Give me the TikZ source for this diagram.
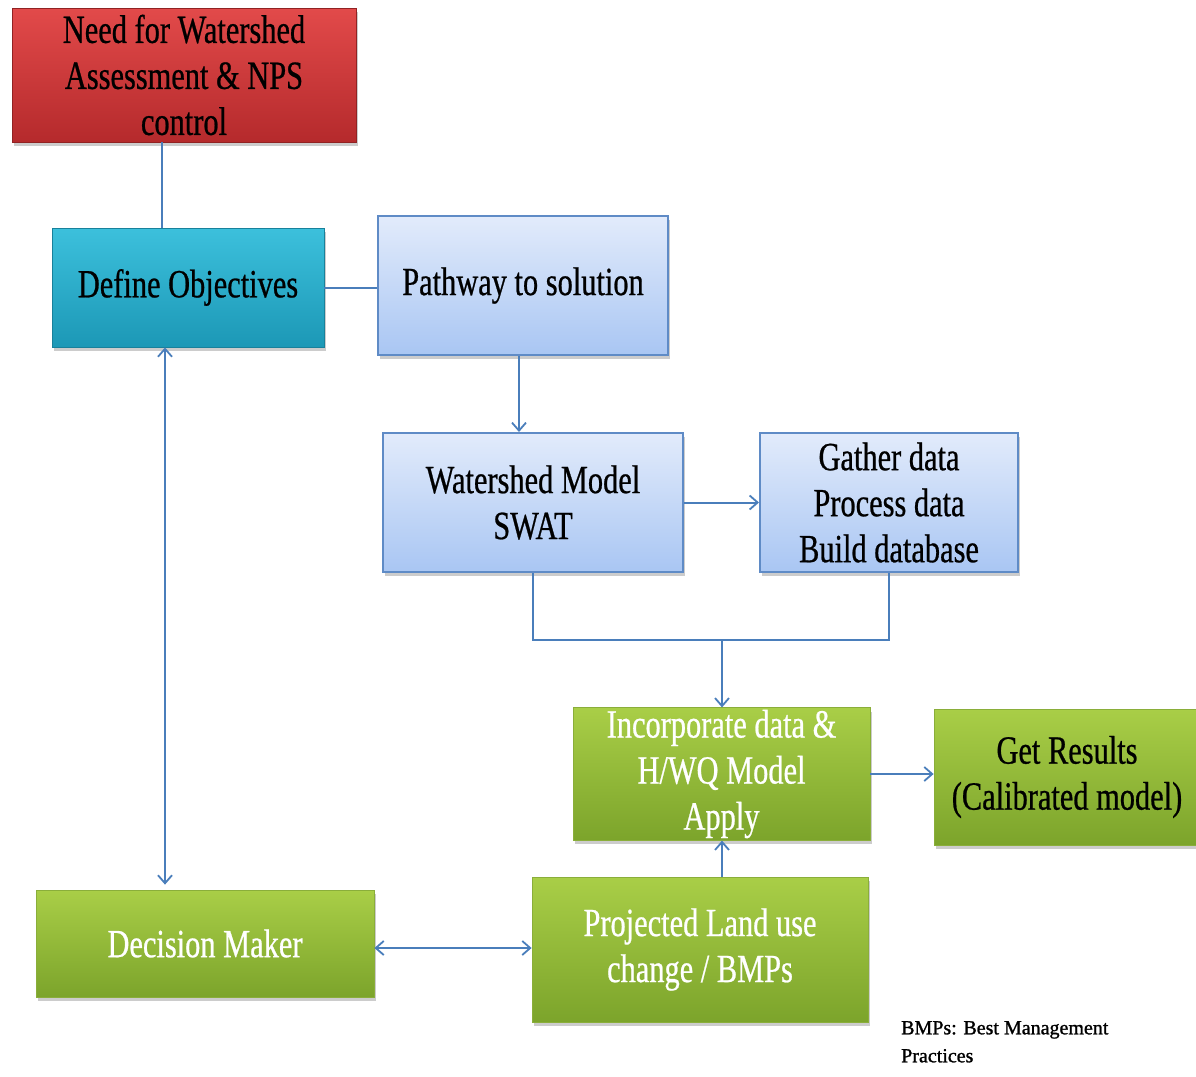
\documentclass[tikz,border=0pt]{standalone}
\usepackage{fontspec}
\setmainfont{Liberation Serif}[FakeStretch=0.76,FakeBold=0.6]
\newfontfamily\notefont{Liberation Serif}[FakeBold=1.2]
\usetikzlibrary{shadows,arrows.meta}
\definecolor{conn}{HTML}{4A7EBB}
\definecolor{redtop}{HTML}{E24A4A}
\definecolor{redbot}{HTML}{B52A2C}
\definecolor{tealtop}{HTML}{3CC0DC}
\definecolor{tealbot}{HTML}{1C98B6}
\definecolor{bluetop}{HTML}{E2EBFB}
\definecolor{bluebot}{HTML}{A9C6F3}
\definecolor{blueedge}{HTML}{5F8BC6}
\definecolor{greentop}{HTML}{A9CE47}
\definecolor{greenbot}{HTML}{7CA42B}
\definecolor{greenedge}{HTML}{8AAE3A}
\tikzset{
  x=1pt, y=-1pt,
  boxbase/.style={rectangle, align=center, inner sep=2pt,
    font=\fontsize{40}{46}\selectfont,
    drop shadow={opacity=0.4, shadow xshift=2pt, shadow yshift=-4pt}},
  redbox/.style={boxbase, top color=redtop, bottom color=redbot, draw=redbot!80!black, line width=0.8pt, text=black},
  tealbox/.style={boxbase, top color=tealtop, bottom color=tealbot, draw=tealbot!85!black, line width=0.8pt, text=black},
  bluebox/.style={boxbase, top color=bluetop, bottom color=bluebot, draw=blueedge, line width=2pt, text=black},
  greenbox/.style={boxbase, top color=greentop, bottom color=greenbot, draw=greenedge, line width=0.8pt},
  conline/.style={draw=conn, line width=2pt},
  tipstyle/.style={},
  arr/.style={conline, -{Straight Barb[length=8pt,width=14pt,line width=1.8pt]}},
  darr/.style={conline, {Straight Barb[length=8pt,width=14pt,line width=1.8pt]}-{Straight Barb[length=8pt,width=14pt,line width=1.8pt]}}
}
\begin{document}
\begin{tikzpicture}
\useasboundingbox (0,0) rectangle (1196,1076);
\fill[white] (0,0) rectangle (1196,1076);

\node[redbox, minimum width=344pt, minimum height=134pt] (red) at (184,75)
  {Need for Watershed\\Assessment \& NPS\\control};
\node[tealbox, minimum width=272pt, minimum height=119pt] (define) at (188,287.5)
  {Define Objectives};
\node[bluebox, minimum width=290pt, minimum height=139pt] (path) at (523,285.5)
  {Pathway to solution};
\node[bluebox, minimum width=300pt, minimum height=139pt] (ws) at (533,502.5)
  {Watershed Model\\SWAT};
\node[bluebox, minimum width=258pt, minimum height=139pt] (gather) at (889,502.5)
  {Gather data\\Process data\\Build database};
\node[greenbox, text=white, minimum width=297pt, minimum height=132pt] (inc) at (721.5,774)
  {Incorporate data \&\\H/WQ Model\\Apply};
\node[greenbox, text=black, minimum width=266pt, minimum height=136pt] (get) at (1067,777)
  {Get Results\\(Calibrated model)};
\node[greenbox, text=white, minimum width=336pt, minimum height=145pt] (proj) at (700,949.5)
  {Projected Land use\\change / BMPs};
\node[greenbox, text=white, minimum width=338pt, minimum height=107pt] (dec) at (205,943.5)
  {Decision Maker};
\node[anchor=north west, align=left, inner sep=0pt, font=\notefont\fontsize{20}{28}\selectfont] (note) at (901,1021)
  {BMPs: Best Management\\Practices};

\coordinate (xa) at (162,0);
\coordinate (xb) at (519,0);
\coordinate (xd) at (165,0);
\coordinate (j) at (722,640);

\draw[conline] (red.south -| xa) -- (define.north -| xa);
\draw[conline] (define.east) -- (define.east -| path.west);
\draw[arr] (path.south -| xb) -- (ws.north -| xb);
\draw[arr] (ws.east) -- (ws.east -| gather.west);
\draw[conline] (ws.south) |- (j) -| (gather.south);
\draw[arr] (j) -- (inc.north -| j);
\draw[arr] (inc.east) -- (inc.east -| get.west);
\draw[arr] (proj.north -| j) -- (inc.south -| j);
\draw[darr] ([yshift=-4.5pt]dec.east) -- ([yshift=-4.5pt]dec.east -| proj.west);
\draw[darr] (define.south -| xd) -- ([yshift=5pt]dec.north -| xd);
\end{tikzpicture}
\end{document}
